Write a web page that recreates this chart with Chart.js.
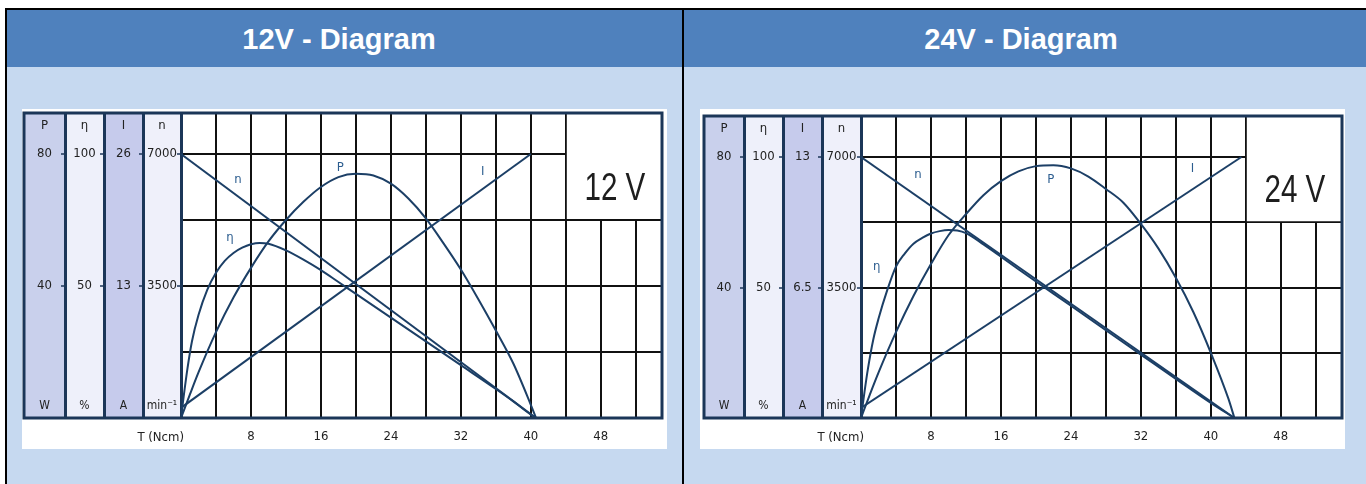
<!DOCTYPE html>
<html><head><meta charset="utf-8">
<script src="https://cdn.jsdelivr.net/npm/chart.js@4.4.1/dist/chart.umd.min.js"></script>
<style>
html,body{margin:0;padding:0;background:#fff;width:1366px;height:484px;overflow:hidden;position:relative;font-family:"Liberation Sans",Arial,sans-serif;}
#hdr{position:absolute;left:5px;top:8px;width:1400px;height:57px;background:#4F81BD;border-top:2px solid #000;border-bottom:2px solid #000;border-left:2px solid #000;}
#bodyBg{position:absolute;left:5px;top:67px;width:1400px;height:430px;background:#C6D9F0;border-left:2px solid #000;}
#sep{position:absolute;left:682px;top:8px;width:2px;height:480px;background:#000;}
.ttl{position:absolute;top:19px;height:40px;line-height:40px;font-weight:bold;font-size:29px;color:#fff;text-align:center;width:400px;}
canvas{position:absolute;}
</style>
</head><body>
<div id="hdr"></div>
<div id="bodyBg"></div>
<div id="sep"></div>
<div class="ttl" style="left:139px">12V - Diagram</div>
<div class="ttl" style="left:821px">24V - Diagram</div>
<canvas id="c12" width="645" height="340" style="left:22px;top:109px"></canvas>
<canvas id="c24" width="645" height="340" style="left:700px;top:109px"></canvas>
<script>
// ---------- shared axis data ----------
const torqueGrid   = [0,4,8,12,16,20,24,28,32,36,40,44,48,52];
const torqueLabels = [8,16,24,32,40,48];
const speedGrid    = [0,1750,3500,5250,7000];

// ---------- 12 V ----------
const v12_speedT   = [0, 40.6];
const v12_speed    = [7000, 0];
const v12_currentT = [0, 40];
const v12_current  = [1, 26];
const v12_powerT   = [0,1,2,4,6,8,10,12,14,16,18,20,22,24,26,28,30,32,34,36,38,40,40.6];
const v12_power    = [0,7,13.8,26,36.5,45.5,53.5,60,65.5,70,73,74,73.5,71,66.5,60.5,53,45,36,26.5,16.5,4,0];
const v12_effT     = [0,0.3,0.75,1.25,2,3,4,5,6,7,8,9,10,12,14,16,18,20,24,28,32,36,38,40,40.6];
const v12_eff      = [0,8,19,29,39,48.5,55,59.5,62.5,64.5,65.8,66.3,66,63.5,60,56,51.5,47,38,29,20,11,6.3,1.3,0];
const v12_ticksP   = [40, 80];
const v12_ticksEff = [50, 100];
const v12_ticksI   = [13, 26];
const v12_ticksN   = [3500, 7000];

// ---------- 24 V ----------
const v24_speedT   = [0, 42.7];
const v24_speed    = [7000, 0];
const v24_currentT = [0, 43.5];
const v24_current  = [0.5, 13];
const v24_powerT   = [0,1,2,4,6,8,10,12,14,16,18,20,22,24,26,28,30,32,34,36,38,40,42,42.7];
const v24_power    = [0,7.1,13.9,26.3,37.4,47.2,56,62.5,68.3,72.6,75.6,77.2,77.5,76.5,74,70.2,66,59.5,52,43,32.5,20,6,0];
const v24_effT     = [0,0.4,0.8,1.4,2,3,4,5,6,7,8,9,10,11,12,14,16,18,20,24,28,32,36,40,42.7];
const v24_eff      = [0,10,19,30,38,49,58,63,66.8,69,70.7,71.6,72,71.8,70.8,66.5,61.8,57,52.3,43,33.6,24.3,15,5.8,0];
const v24_ticksP   = [40, 80];
const v24_ticksEff = [50, 100];
const v24_ticksI   = [6.5, 13];
const v24_ticksN   = [3500, 7000];

// ---------- styling ----------
const NAVY  = '#1b3658';
const GRID  = '#111111';
const CURVE = '#1c3f66';
const LABEL = '#2c5d8f';
const TXT   = '#222222';
const FONT  = "'DejaVu Sans Condensed','Liberation Sans Narrow','Liberation Sans',Arial,sans-serif";
const FSIZE = 13;

const mctx = document.createElement('canvas').getContext('2d');
function textW(t, f){ mctx.font = f; return mctx.measureText(t).width; }
function pts(xs, ys){ return xs.map((x,i)=>({x:x, y:ys[i]})); }
function fmt(v){ return String(v); }

const panelPlugin = {
  id: 'motorPanel',
  beforeDraw(chart, args, o){
    const {ctx, chartArea:ca} = chart;
    ctx.save();
    ctx.fillStyle = '#fff';
    ctx.fillRect(0,0,chart.width,chart.height);
    o.strips.forEach(s => {
      const sc = chart.scales[s.id];
      ctx.fillStyle = s.bg;
      ctx.fillRect(sc.left, ca.top, sc.right - sc.left, ca.bottom - ca.top);
    });
    ctx.restore();
  },
  beforeDatasetsDraw(chart, args, o){
    const {ctx, chartArea:ca, scales} = chart;
    const x0 = scales.x.getPixelForValue(o.boxFromT) + 1;
    const y1 = scales.yN.getPixelForValue(o.boxToN) - 1;
    ctx.save();
    ctx.fillStyle = '#fff';
    ctx.fillRect(x0, ca.top, ca.right - x0, y1 - ca.top);
    ctx.restore();
  },
  afterDraw(chart, args, o){
    const {ctx, chartArea:ca, scales} = chart;
    ctx.save();
    const left = scales[o.strips[0].id].left;
    ctx.strokeStyle = NAVY; ctx.lineWidth = 3;
    ctx.strokeRect(left, ca.top, ca.right - left, ca.bottom - ca.top);
    // strip titles and units
    ctx.fillStyle = TXT; ctx.textAlign = 'center'; ctx.textBaseline = 'middle';
    o.strips.forEach(s => {
      const sc = chart.scales[s.id];
      const cx = (sc.left + sc.right)/2;
      ctx.font = `${FSIZE}px ${FONT}`;
      ctx.fillText(s.title, cx, ca.top + 13);
      ctx.font = `${FSIZE-1}px ${FONT}`;
      ctx.fillText(s.unit, cx, ca.bottom - 12);
    });
    // curve labels
    ctx.fillStyle = LABEL; ctx.font = `${FSIZE}px ${FONT}`;
    o.curveLabels.forEach(l => {
      ctx.fillText(l.text, scales.x.getPixelForValue(l.t), scales.yN.getPixelForValue(l.n));
    });
    // voltage label (condensed)
    const bx0 = scales.x.getPixelForValue(o.boxFromT);
    const vy = (scales.yN.getPixelForValue(7000) + scales.yN.getPixelForValue(o.boxToN))/2;
    ctx.save();
    ctx.translate((bx0 + ca.right)/2 + 1, vy + 2);
    ctx.scale(0.76, 1);
    ctx.fillStyle = '#1e1e1e'; ctx.font = `39px 'Liberation Sans',Arial,sans-serif`;
    ctx.fillText(o.voltage, 0, 0);
    ctx.restore();
    // torque axis name
    ctx.fillStyle = TXT; ctx.font = `${FSIZE}px ${FONT}`; ctx.textAlign = 'right';
    ctx.fillText('T (Ncm)', ca.left + 3, ca.bottom + o.tLabelDy);
    ctx.restore();
  }
};

function yAxis(full, ratio, tickVals, labelVals, weight, width, drawGrid){
  const tl = 4;
  const fstr = `${FSIZE}px ${FONT}`;
  const widest = Math.max(...labelVals.map(v => textW(fmt(v), fstr)));
  return {
    type:'linear', position:'left', weight:weight, min:0, max: full*ratio,
    afterBuildTicks: s => { s.ticks = tickVals.map(v => ({value:v})); },
    afterFit: s => { s.width = width; s.paddingTop = 0; s.paddingBottom = 0; },
    ticks: {
      autoSkip:false, crossAlign:'center', padding: Math.max(0, width/2 - tl - widest/2),
      font:{family:FONT, size:FSIZE}, color:TXT,
      callback: v => labelVals.includes(v) ? fmt(v) : ''
    },
    grid: {
      drawOnChartArea: drawGrid, drawTicks:true, tickLength:tl, tickWidth:1.5,
      color: c => (c.tick && c.tick.value === 0) ? 'rgba(0,0,0,0)' : GRID,
      tickColor: c => (c.tick && labelVals.includes(c.tick.value)) ? NAVY : 'rgba(0,0,0,0)',
      lineWidth: 2
    },
    border: {display:true, color:NAVY, width:3}
  };
}

function buildChart(id, d){
  const ds = (data, yid, curved) => ({
    data: data, yAxisID: yid, showLine:true, borderColor:CURVE, borderWidth:2,
    pointRadius:0, fill:false, cubicInterpolationMode: curved ? 'monotone' : 'default', tension: 0
  });
  new Chart(document.getElementById(id), {
    type:'scatter',
    data:{ datasets:[
      ds(pts(d.speedT, d.speed), 'yN', false),
      ds(pts(d.currentT, d.current), 'yI', false),
      ds(pts(d.powerT, d.power), 'yP', true),
      ds(pts(d.effT, d.eff), 'yE', true)
    ]},
    options:{
      responsive:false, animation:false, devicePixelRatio:1,
      layout:{autoPadding:false, padding:d.pad},
      plugins:{
        legend:{display:false}, tooltip:{enabled:false},
        motorPanel:{
          strips:[
            {id:'yP', bg:'#c9d0ec', title:'P', unit:'W'},
            {id:'yE', bg:'#eef0fa', title:'η', unit:'%'},
            {id:'yI', bg:'#c6cbec', title:'I', unit:'A'},
            {id:'yN', bg:'#eff0fa', title:'n', unit:'min⁻¹'}
          ],
          boxFromT:44, boxToN:5250, voltage:d.voltage, tLabelDy:d.tDy,
          curveLabels:d.curveLabels
        }
      },
      scales:{
        x:{
          type:'linear', min:0, max:55,
          afterBuildTicks: s => { s.ticks = torqueGrid.map(v => ({value:v})); },
          afterFit: s => { s.height = d.xH; s.paddingLeft = 0; s.paddingRight = 0; },
          ticks:{autoSkip:false, maxRotation:0, padding:d.xPad, font:{family:FONT, size:FSIZE}, color:TXT,
                 callback: v => torqueLabels.includes(v) ? String(v) : ''},
          grid:{drawTicks:false, lineWidth:2, color: c => (c.tick && c.tick.value === 0) ? 'rgba(0,0,0,0)' : GRID},
          border:{display:false}
        },
        yN: yAxis(7000, d.ratio, speedGrid, d.ticksN, 1, d.w[3], true),
        yI: yAxis(d.ticksI[1], d.ratio, d.ticksI, d.ticksI, 2, d.w[2], false),
        yE: yAxis(100, d.ratio, d.ticksEff, d.ticksEff, 3, d.w[1], false),
        yP: yAxis(80, d.ratio, d.ticksP, d.ticksP, 4, d.w[0], false)
      }
    },
    plugins:[panelPlugin]
  });
}

buildChart('c12', {
  speedT:v12_speedT, speed:v12_speed, currentT:v12_currentT, current:v12_current,
  powerT:v12_powerT, power:v12_power, effT:v12_effT, eff:v12_eff,
  ticksP:v12_ticksP, ticksEff:v12_ticksEff, ticksI:v12_ticksI, ticksN:v12_ticksN,
  ratio:305/264, pad:{left:2, top:4, right:5, bottom:0}, w:[41,39,39,38], xH:31, xPad:11, tDy:20,
  voltage:'12 V',
  curveLabels:[{text:'n', t:6.5, n:6310},{text:'P', t:18.2, n:6630},{text:'I', t:34.5, n:6520},{text:'η', t:5.6, n:4770}]
});
buildChart('c24', {
  speedT:v24_speedT, speed:v24_speed, currentT:v24_currentT, current:v24_current,
  powerT:v24_powerT, power:v24_power, effT:v24_effT, eff:v24_eff,
  ticksP:v24_ticksP, ticksEff:v24_ticksEff, ticksI:v24_ticksI, ticksN:v24_ticksN,
  ratio:302/261, pad:{left:4, top:7, right:3, bottom:0}, w:[40,39,39,39], xH:31, xPad:11, tDy:20,
  voltage:'24 V',
  curveLabels:[{text:'n', t:6.5, n:6520},{text:'P', t:21.7, n:6380},{text:'I', t:37.9, n:6700},{text:'η', t:1.8, n:4050}]
});
</script>
</body></html>
